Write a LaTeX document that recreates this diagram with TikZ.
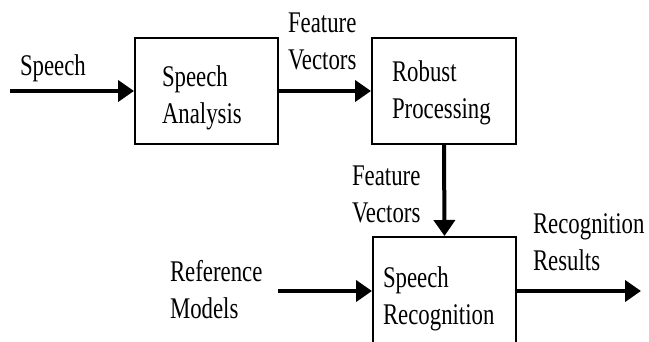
\documentclass[tikz,border=0pt]{standalone}
\usepackage{fontspec}
\setmainfont{Liberation Serif}
\usetikzlibrary{arrows.meta}
\newcommand{\lbltext}[1]{\scalebox{0.76}[1]{\begin{tabular}[t]{@{}l@{}}#1\end{tabular}}}
\tikzset{
  blockbox/.style={draw=black, line width=2pt, minimum width=#1, inner sep=0pt},
  lbl/.style={anchor=base west, inner sep=0pt, outer sep=0pt, font=\fontsize{30}{37.5}\selectfont},
  flow/.style={line width=4pt, -{Triangle[length=16pt,width=21pt]}}
}
\begin{document}
\begin{tikzpicture}[x=1pt,y=-1pt]
\clip (0,0) rectangle (649,341);
\fill[white] (0,0) rectangle (649,341);
% boxes
\node[blockbox=143pt, minimum height=106pt] (sa) at (206.5,91) {};
\node[blockbox=144pt, minimum height=106pt] (rp) at (444,91) {};
\node[blockbox=143pt, minimum height=112pt] (sr) at (444.5,293) {};
% labels
\node[lbl] (lspeech) at (20,75) {\lbltext{Speech}};
\node[lbl] (lsa) at (162,86) {\lbltext{Speech\\Analysis}};
\node[lbl] (lfv1) at (288,32) {\lbltext{Feature\\Vectors}};
\node[lbl] (lrp) at (392,81) {\lbltext{Robust\\Processing}};
\node[lbl] (lfv2) at (352,185) {\lbltext{Feature\\Vectors}};
\node[lbl] (lrr) at (533,233) {\lbltext{Recognition\\Results}};
\node[lbl] (lrm) at (170,281) {\lbltext{Reference\\Models}};
\node[lbl] (lsr) at (383,287) {\lbltext{Speech\\Recognition}};
% connectors
\coordinate (in) at (10,91);
\coordinate (refin) at (278,291);
\coordinate (out) at (641,291);
\draw[flow] (in) -- (sa.west);
\draw[flow] (sa.east) -- (rp.west);
\draw[flow] (rp.south) -- (sr.north);
\draw[flow] (refin) -- (refin -| sr.west);
\draw[flow] (refin -| sr.east) -- (out);
\end{tikzpicture}
\end{document}
